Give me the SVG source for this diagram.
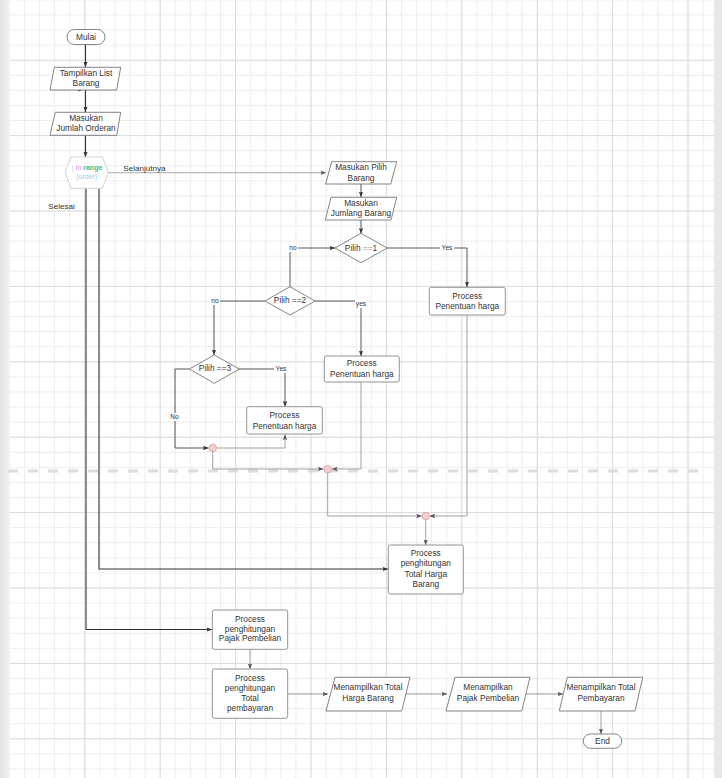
<svg xmlns="http://www.w3.org/2000/svg" width="722" height="778" viewBox="0 0 722 778">
  <defs>
    <pattern id="gridMinor" patternUnits="userSpaceOnUse" x="8.9" y="14.46" width="15.08" height="15.08">
      <rect x="0" y="0" width="15.08" height="1" fill="#ededed"/>
      <rect x="0" y="0" width="1" height="15.08" fill="#ededed"/>
    </pattern>
    <pattern id="gridMajor" patternUnits="userSpaceOnUse" x="8.9" y="-15.7" width="75.4" height="75.4">
      <rect x="0" y="0" width="75.4" height="1" fill="#dcdcdc"/>
      <rect x="0" y="0" width="1" height="75.4" fill="#dcdcdc"/>
    </pattern>
    <linearGradient id="leftEdge" x1="0" y1="0" x2="1" y2="0">
      <stop offset="0" stop-color="#e2e3e6"/>
      <stop offset="1" stop-color="#f4f4f6"/>
    </linearGradient>
    <marker id="arrDark" viewBox="0 0 10 10" refX="10" refY="5" markerWidth="5.5" markerHeight="5.5" markerUnits="userSpaceOnUse" orient="auto">
      <path d="M0,1 L10,5 L0,9 L2,5 z" fill="#333"/>
    </marker>
    <marker id="arrGray" viewBox="0 0 10 10" refX="10" refY="5" markerWidth="5.5" markerHeight="5.5" markerUnits="userSpaceOnUse" orient="auto">
      <path d="M0,1 L10,5 L0,9 L2,5 z" fill="#555"/>
    </marker>
  </defs>
  <style>
    text { font-family: "Liberation Sans", Arial, sans-serif; font-size: 8.3px; fill: #333; text-anchor: middle; }
    .lbl { font-size: 6.6px; }
    .side { text-anchor: start; font-size: 8.1px; }
    .hex { font-size: 7px; }
    .c-bar { fill: #9fd6f2; }
    .c-kw { fill: #d98ad9; }
    .c-fn { fill: #2fbf8f; font-weight: bold; }
    .c-arg { fill: #8fcff0; }
    .c-op { fill: #999; }
    .shape { fill: #ffffff; stroke: #666; stroke-width: 0.8; }
    .box { fill: #ffffff; stroke: #777; stroke-width: 0.8; }
    .dark { fill: none; stroke: #333; stroke-width: 1.1; marker-end: url(#arrDark); }
    .mid { fill: none; stroke: #444; stroke-width: 0.9; marker-end: url(#arrDark); }
    .soft { fill: none; stroke: #8a8a8a; stroke-width: 0.8; marker-end: url(#arrGray); }
    .junction { fill: #f9cdcd; stroke: #c49a9a; stroke-width: 0.7; }
  </style>

  <!-- canvas background and grid -->
  <rect x="0" y="0" width="722" height="778" fill="#ffffff"/>
  <rect x="10" y="0" width="704" height="778" fill="url(#gridMinor)"/>
  <rect x="10" y="0" width="704" height="778" fill="url(#gridMajor)"/>
  <rect x="0" y="0" width="10" height="778" fill="url(#leftEdge)"/>
  <rect x="714" y="0" width="8" height="778" fill="#e7e8eb"/>
  <line x1="8" y1="471" x2="700" y2="471" stroke="#dcdcdc" stroke-width="3" stroke-dasharray="10 10"/>

  <!-- connectors -->
  <g id="connectors">
    <path class="dark" d="M85.5,44.5 V67"/>
    <path class="dark" d="M85.5,90 V112"/>
    <path d="M78.5,87 L83.5,89.3 L78.5,91.6 z" fill="#333"/>
    <path class="dark" d="M85.5,135.3 V157"/>
    <path d="M108,172.7 H326" fill="none" stroke="#a0a0a0" stroke-width="0.9" marker-end="url(#arrGray)"/>
    <path class="dark" d="M86,188.5 V629.5 H212"/>
    <path class="dark" d="M99,188.5 V569 H388"/>

    <path class="mid" d="M361,184 V197"/>
    <path class="mid" d="M361,220 V233.5"/>
    <path class="mid" d="M290,286.7 V248 H335"/>
    <path class="mid" d="M387.3,248 H467 V287"/>
    <path class="mid" d="M265,301 H214 V355"/>
    <path class="mid" d="M315,301 H361 V356"/>
    <path class="mid" d="M239.3,369 H285 V406.5"/>
    <path class="mid" d="M189.3,369 H175 V448 H208.5"/>
    <path class="soft" d="M216.5,448 H285 V434.5"/>
    <path class="soft" d="M212.7,451.7 V469 H323.5"/>
    <path class="soft" d="M361,382 V469 H332"/>
    <path class="soft" d="M327.7,473 V516 H421.8"/>
    <path class="soft" d="M467,315 V516 H429.6"/>
    <path class="soft" d="M425.7,519.8 V545"/>

    <path class="soft" d="M250,649.5 V669"/>
    <path class="soft" d="M287.7,694 H328"/>
    <path class="soft" d="M402,694 H447"/>
    <path class="soft" d="M522,694 H563"/>
    <path class="soft" d="M601,711 V734"/>

    <!-- branch labels -->
    <rect x="288" y="244" width="10" height="8" fill="#ffffff"/>
    <text class="lbl" x="293" y="250.4">no</text>
    <rect x="440" y="244" width="14" height="8" fill="#ffffff"/>
    <text class="lbl" x="447" y="250.4">Yes</text>
    <rect x="210" y="297" width="10" height="8" fill="#ffffff"/>
    <text class="lbl" x="215" y="303.4">no</text>
    <rect x="355" y="300" width="12" height="8" fill="#ffffff"/>
    <text class="lbl" x="361" y="306">yes</text>
    <rect x="274" y="365" width="14" height="8" fill="#ffffff"/>
    <text class="lbl" x="281" y="371.3">Yes</text>
    <rect x="169" y="413" width="11" height="8" fill="#ffffff"/>
    <text class="lbl" x="174.5" y="419.3">No</text>
    <text class="side" x="123.3" y="171.2">Selanjutnya</text>
    <text class="side" x="48.3" y="208.6">Selesai</text>
  </g>

  <!-- merge points -->
  <g id="merge1"><circle class="junction" cx="212.7" cy="448" r="3.8"/></g>
  <g id="merge2"><circle class="junction" cx="327.7" cy="469.2" r="3.8"/></g>
  <g id="merge3"><circle class="junction" cx="425.7" cy="516" r="3.8"/></g>

  <g id="mulai">
    <rect class="shape" x="67" y="29.5" width="38" height="15" rx="7.5"/>
    <text x="86" y="40">Mulai</text>
  </g>

  <g id="tampilkan-list">
    <polygon class="shape" points="54.3,67.3 120.7,67.3 116.7,90 50,90"/>
    <text x="86" y="75.7">Tampilkan List</text>
    <text x="86" y="86.3">Barang</text>
  </g>

  <g id="masukan-order">
    <polygon class="shape" points="55.3,112.3 120.7,112.3 116.7,135.3 50,135.3"/>
    <text x="86" y="121.3">Masukan</text>
    <text x="86" y="131">Jumlah Orderan</text>
  </g>

  <g id="in-range">
    <polygon points="65,172.5 71,157 102.5,157 108.3,172.5 102.5,188.3 71,188.3" fill="#ffffff" stroke="#c8c8c8" stroke-width="0.8"/>
    <text class="hex" x="87" y="169.8"><tspan class="c-bar">| </tspan><tspan class="c-kw">In </tspan><tspan class="c-fn">range</tspan></text>
    <text class="hex c-arg" x="86.5" y="179.2">(order)</text>
  </g>

  <g id="masukan-pilih">
    <polygon class="shape" points="331.7,161.7 396.7,161.7 390.7,184 325.7,184"/>
    <text x="361" y="169.6">Masukan Pilih</text>
    <text x="361" y="181">Barang</text>
  </g>

  <g id="masukan-jumlah-barang">
    <polygon class="shape" points="331,197.3 396.7,197.3 391,220 325.3,220"/>
    <text x="361" y="206.2">Masukan</text>
    <text x="361" y="215.8">Jumlang Barang</text>
  </g>

  <g id="pilih-1">
    <polygon class="shape" points="361,233.3 387.3,248 361,262.7 335,248"/>
    <text x="361" y="251">Pilih <tspan class="c-op">==</tspan>1</text>
  </g>

  <g id="pilih-2">
    <polygon class="shape" points="290,286.7 315,301 290,315 265,301"/>
    <text x="290" y="303">Pilih ==2</text>
  </g>

  <g id="pilih-3">
    <polygon class="shape" points="214.3,355 239.3,369 214.3,383.3 189.3,369"/>
    <text x="215" y="371.3">Pilih ==3</text>
  </g>

  <g id="penentuan-harga-1">
    <rect class="box" x="429.3" y="287.3" width="76" height="27.7" rx="2"/>
    <text x="467.3" y="299">Process</text>
    <text x="467.3" y="309">Penentuan harga</text>
  </g>

  <g id="penentuan-harga-2">
    <rect class="box" x="324.3" y="356" width="75" height="26" rx="2"/>
    <text x="361.8" y="366.3">Process</text>
    <text x="361.8" y="377.3">Penentuan harga</text>
  </g>

  <g id="penentuan-harga-3">
    <rect class="box" x="246.7" y="406.7" width="75.6" height="27.3" rx="2"/>
    <text x="284.5" y="418">Process</text>
    <text x="284.5" y="428.7">Penentuan harga</text>
  </g>

  <g id="total-harga">
    <rect class="box" x="388.3" y="545" width="75" height="49" rx="2"/>
    <text x="425.8" y="556">Process</text>
    <text x="425.8" y="566.3">penghitungan</text>
    <text x="425.8" y="576.7">Total Harga</text>
    <text x="425.8" y="587.3">Barang</text>
  </g>

  <g id="pajak">
    <rect class="box" x="212.3" y="610" width="75.4" height="39.3" rx="2"/>
    <text x="250" y="622.3">Process</text>
    <text x="250" y="631.7">penghitungan</text>
    <text x="250" y="641.3">Pajak Pembelian</text>
  </g>

  <g id="total-pembayaran">
    <rect class="box" x="212.3" y="669" width="75.4" height="49.3" rx="2"/>
    <text x="250" y="681.3">Process</text>
    <text x="250" y="691.3">penghitungan</text>
    <text x="250" y="701.3">Total</text>
    <text x="250" y="711.3">pembayaran</text>
  </g>

  <g id="tampil-total-harga">
    <polygon class="shape" points="335,677.3 410,677.3 401.7,711 326,711"/>
    <text x="368" y="690">Menampilkan Total</text>
    <text x="368" y="701">Harga Barang</text>
  </g>

  <g id="tampil-pajak">
    <polygon class="shape" points="455,677.3 530,677.3 521.7,711 446,711"/>
    <text x="488" y="690">Menampilkan</text>
    <text x="488" y="701">Pajak Pembelian</text>
  </g>

  <g id="tampil-total-bayar">
    <polygon class="shape" points="567.3,677.3 642.7,677.3 635,711 559.3,711"/>
    <text x="601" y="690">Menampilkan Total</text>
    <text x="601" y="701">Pembayaran</text>
  </g>

  <g id="end">
    <rect class="shape" x="583.3" y="734" width="38.4" height="14.3" rx="7.15"/>
    <text x="602.5" y="744">End</text>
  </g>
</svg>
